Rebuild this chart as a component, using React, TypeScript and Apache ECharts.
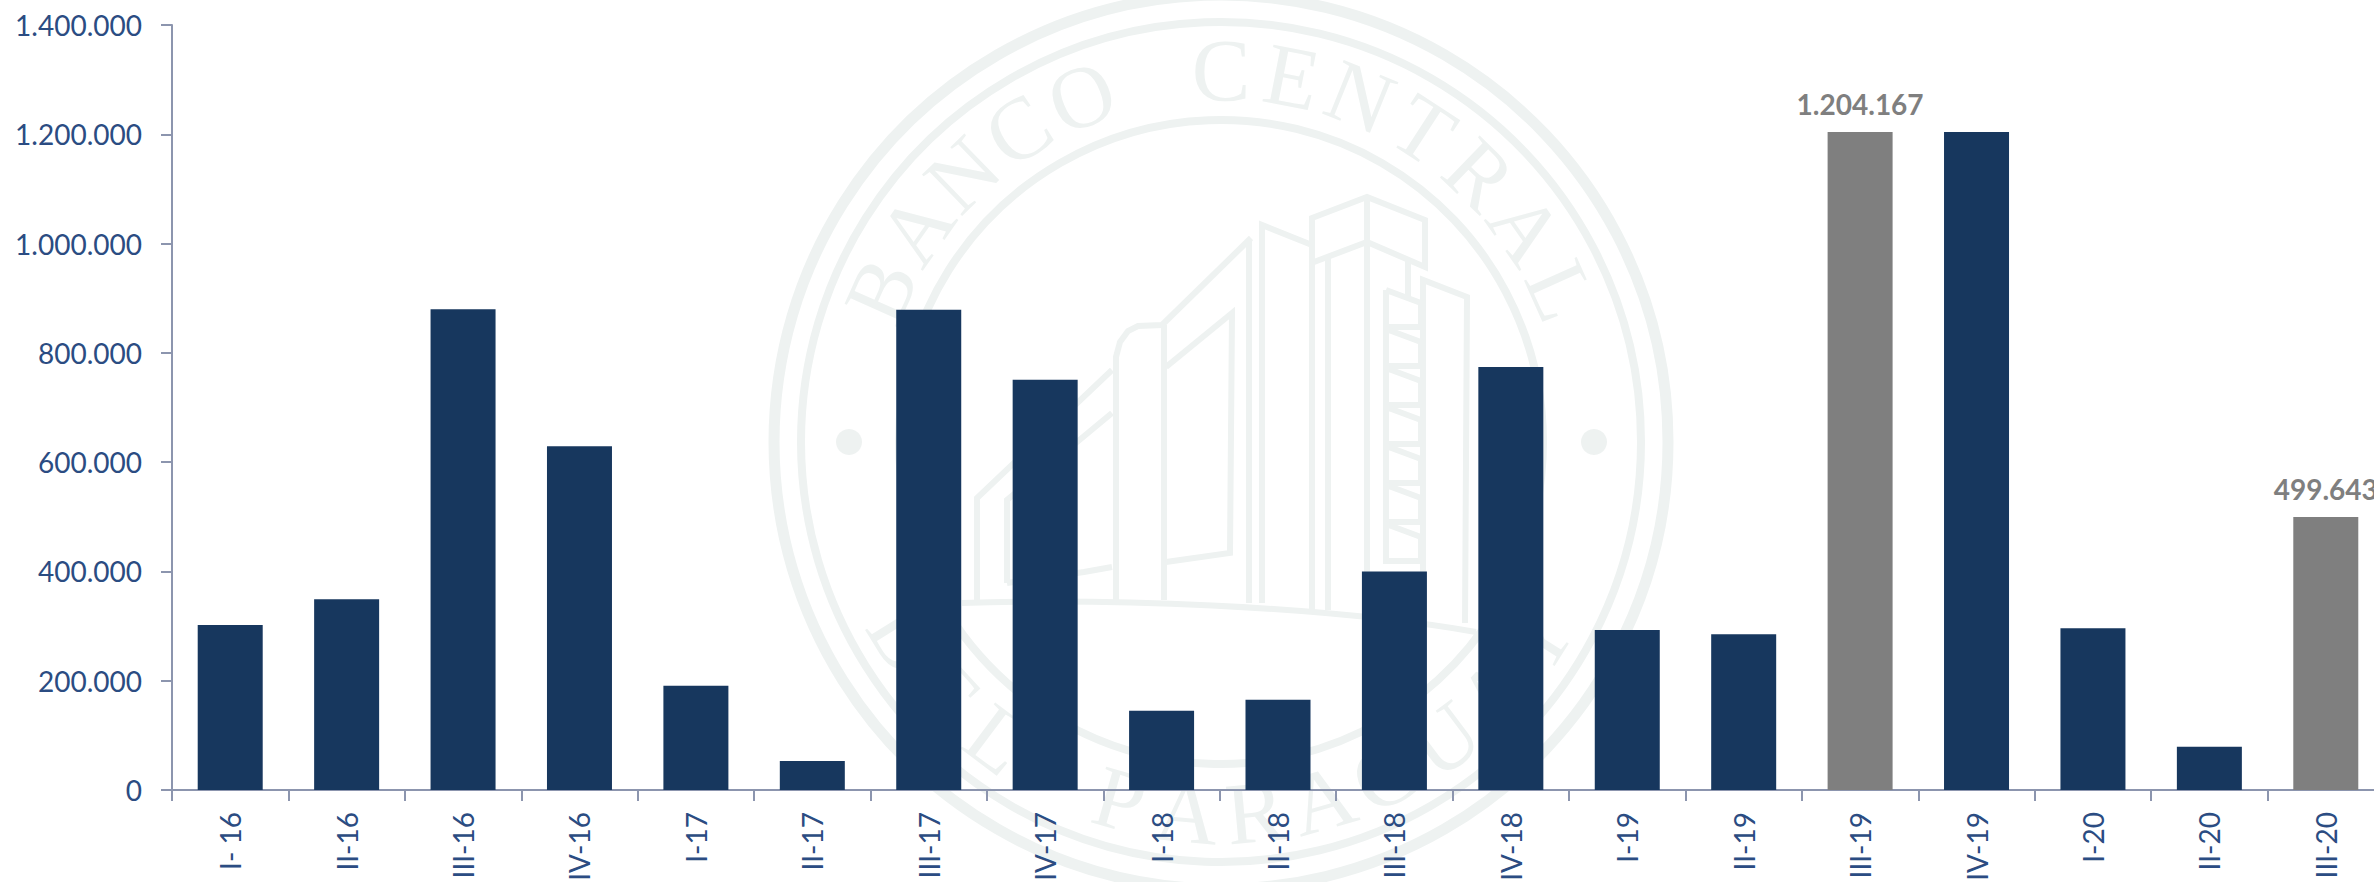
import React, { useEffect, useRef } from "react";
import * as echarts from "echarts";

const categories = ["I- 16","II-16","III-16","IV-16","I-17","II-17","III-17","IV-17","I-18","II-18","III-18","IV-18","I-19","II-19","III-19","IV-19","I-20","II-20","III-20"];
const values = [302000,349000,880000,629000,191000,53000,879000,751000,145000,165000,400000,774000,293000,285000,1204167,1204000,296000,79000,499643];
const highlighted = ["III-19","III-20"];
const labelled = ["III-19","III-20"];
const yTickLabels: Record<number,string> = {0:"0",200000:"200.000",400000:"400.000",600000:"600.000",800000:"800.000",1000000:"1.000.000",1200000:"1.200.000",1400000:"1.400.000"};

const BLUE = "#17375e", GREY = "#7f7f7f", TXT = "#2b4c82", AXIS = "#8c95ae", WM = "#eef2f1";
const CX = 1221, CY = 442;

function arcLetters(text: string, r: number, from: number, to: number, bottom: boolean) {
  const chars = text.split("");
  return chars.map((ch, i) => {
    const a = from + ((to - from) * i) / (chars.length - 1);
    const rad = (a * Math.PI) / 180;
    const x = CX + r * Math.sin(rad);
    const y = CY - r * Math.cos(rad);
    return {
      type: "text", x, y, rotation: bottom ? -(a - 180) * Math.PI / 180 : -rad, silent: true, z: 0,
      style: { text: ch, fill: WM, font: "88px 'Liberation Serif'", align: "center", verticalAlign: "middle" },
    };
  });
}
const ring = (r: number, w: number) => ({ type: "circle", silent: true, z: 0, shape: { cx: CX, cy: CY, r }, style: { fill: "none", stroke: WM, lineWidth: w } });
const poly = (pts: number[][], w = 6) => ({ type: "polyline", silent: true, z: 0, shape: { points: pts }, style: { fill: "none", stroke: WM, lineWidth: w } });

const windows = [0,1,2,3,4,5,6].map((i) => poly([[1386,290+i*39],[1421,303+i*39],[1421,327+i*39],[1386,327+i*39],[1386,290+i*39]],6));

const watermark = [
  ring(447, 11), ring(420, 8), ring(322, 8),
  { type: "circle", silent: true, z: 0, shape: { cx: 849, cy: 442, r: 13 }, style: { fill: WM } },
  { type: "circle", silent: true, z: 0, shape: { cx: 1594, cy: 442, r: 13 }, style: { fill: WM } },
  ...arcLetters("BANCO CENTRAL", 372, -66, 66, false),
  ...arcLetters("DEL PARAGUAY", 372, 238, 122, true),
  poly([[977,600],[977,498],[1112,370]]),
  poly([[1007,583],[1007,500],[1112,413]]),
  poly([[1007,583],[1084,572],[1112,567]]),
  poly([[1116,600],[1116,357],[1120,342],[1128,331],[1138,326],[1162,325],[1251,238]]),
  poly([[1164,600],[1164,325]]),
  poly([[1166,367],[1232,313],[1230,553],[1166,562]]),
  poly([[1249,603],[1249,240]]),
  poly([[1262,603],[1262,225],[1312,245]]),
  poly([[1312,610],[1312,218],[1367,197],[1425,220],[1425,267],[1367,242],[1314,262]]),
  poly([[1328,610],[1328,258]]),
  poly([[1367,197],[1367,610]]),
  poly([[1408,260],[1408,297]]),
  poly([[1423,600],[1423,280],[1467,297],[1465,623]]),
  ...windows,
  { type: "bezierCurve", silent: true, z: 0, shape: { x1: 962, y1: 603, x2: 1476, y2: 632, cpx1: 1100, cpy1: 598, cpx2: 1320, cpy2: 605 }, style: { fill: "none", stroke: WM, lineWidth: 6 } },
];

export default function App() {
  const ref = useRef<HTMLDivElement>(null);
  useEffect(() => {
    const chart = echarts.init(ref.current!, undefined, { renderer: "svg" });
    chart.setOption({
      animation: false,
      backgroundColor: "#ffffff",
      graphic: { elements: watermark },
      grid: { left: 172, top: 25, width: 2212, height: 765, containLabel: false, outerBoundsMode: "none" },
      xAxis: {
        type: "category", data: categories, boundaryGap: true,
        axisLine: { lineStyle: { color: AXIS, width: 2 } },
        axisTick: { show: true, alignWithLabel: false, length: 11, lineStyle: { color: AXIS, width: 2 } },
        axisLabel: { interval: 0, rotate: 90, margin: 22, color: TXT, fontFamily: "Lato", fontSize: 28 },
      },
      yAxis: {
        type: "value", min: 0, max: 1400000, interval: 200000,
        splitLine: { show: false },
        axisLine: { show: true, lineStyle: { color: AXIS, width: 2 } },
        axisTick: { show: true, length: 11, lineStyle: { color: AXIS, width: 2 } },
        axisLabel: { margin: 30, color: TXT, fontFamily: "Lato", fontSize: 28, formatter: (v: number) => yTickLabels[v] },
      },
      series: [{
        type: "bar", barWidth: 65, z: 2,
        data: categories.map((c, i) => ({
          value: values[i],
          itemStyle: { color: highlighted.includes(c) ? GREY : BLUE },
          label: labelled.includes(c)
            ? { show: true, position: "top", distance: 14, color: GREY, fontFamily: "Lato", fontWeight: 700, fontSize: 28, formatter: values[i].toLocaleString("de-DE") }
            : { show: false },
        })),
      }],
    });
    return () => chart.dispose();
  }, []);
  return (
    <div style={{ position: "fixed", left: 0, top: 0, width: 2374, height: 882, overflow: "hidden", background: "#fff" }}>
      <div ref={ref} style={{ width: 2420, height: 882 }} />
    </div>
  );
}
